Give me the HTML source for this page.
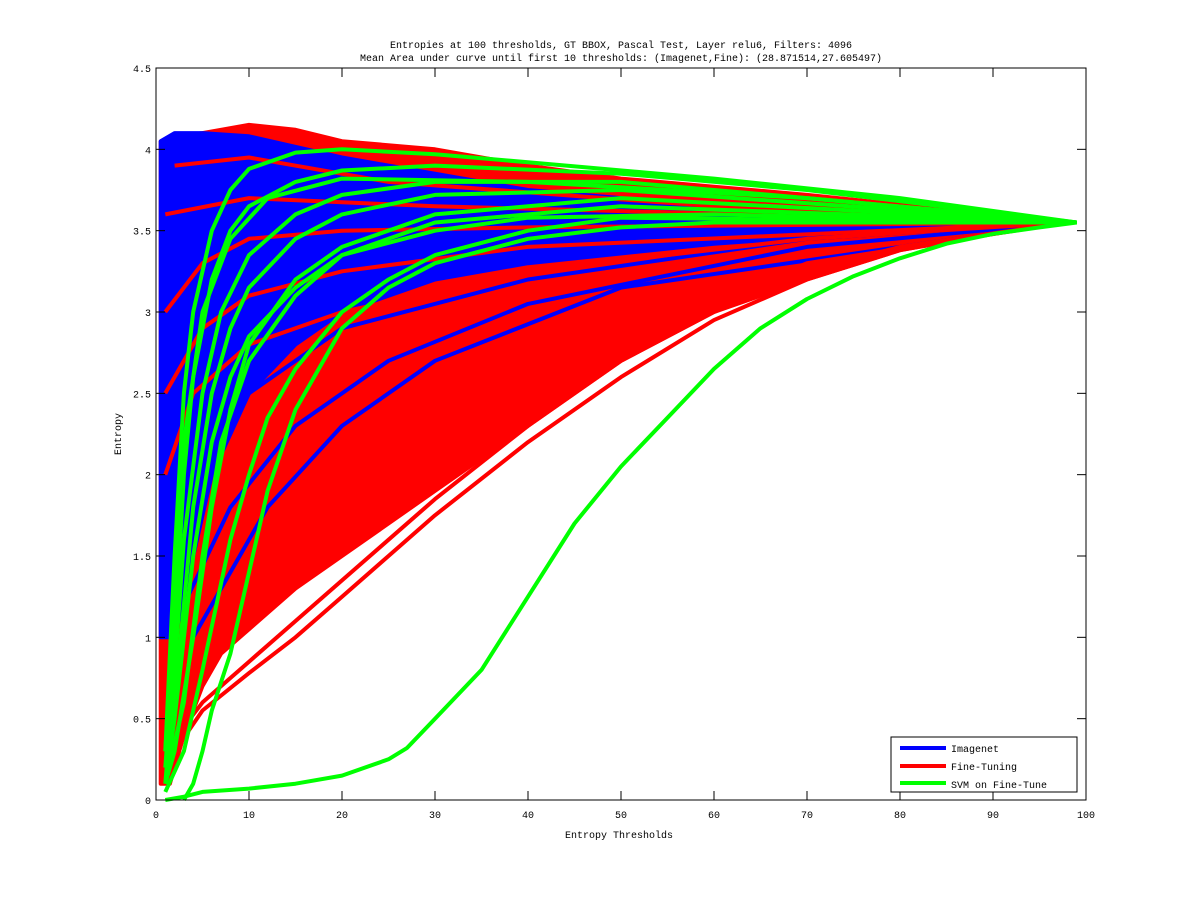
<!DOCTYPE html>
<html><head><meta charset="utf-8"><style>
body{margin:0;background:#fff;}
svg text{font-family:"Liberation Mono",monospace;font-size:10px;fill:#000;}
</style></head><body>
<svg id="chart" width="1200" height="900" xmlns="http://www.w3.org/2000/svg">
<rect width="1200" height="900" fill="#fff"/>
<g id="marks"></g>
<g id="axes"></g>
<text x="621" y="48" text-anchor="middle">Entropies at 100 thresholds, GT BBOX, Pascal Test, Layer relu6, Filters: 4096</text>
<text x="621" y="61" text-anchor="middle">Mean Area under curve until first 10 thresholds: (Imagenet,Fine): (28.871514,27.605497)</text>
<text x="619" y="838" text-anchor="middle">Entropy Thresholds</text>
<text transform="translate(121,434) rotate(-90)" text-anchor="middle">Entropy</text>
<g>
<rect x="891" y="737" width="186" height="55" fill="#fff" stroke="#000" stroke-width="1"/>
<line x1="900" y1="748" x2="946" y2="748" stroke="#0000ff" stroke-width="4"/>
<text x="951" y="752">Imagenet</text>
<line x1="900" y1="766" x2="946" y2="766" stroke="#ff0000" stroke-width="4"/>
<text x="951" y="770">Fine-Tuning</text>
<line x1="900" y1="783" x2="946" y2="783" stroke="#00ff00" stroke-width="4"/>
<text x="951" y="788">SVM on Fine-Tune</text>
</g>
</svg>
<script>
const xTicks=[0,10,20,30,40,50,60,70,80,90,100];
const yTicks=[0,0.5,1,1.5,2,2.5,3,3.5,4,4.5];
const yTickLabels=["0","0.5","1","1.5","2","2.5","3","3.5","4","4.5"];
// Fine-Tuning band envelope
const redUpper=[[0.5,4.05],[2,4.08],[5,4.1],[10,4.15],[15,4.12],[20,4.05],[30,4.0],[40,3.9],[50,3.82],[60,3.77],[70,3.72],[80,3.66],[90,3.6],[98,3.55]];
const redLower=[[98,3.55],[90,3.48],[80,3.38],[70,3.2],[60,3.0],[50,2.7],[40,2.3],[30,1.9],[20,1.5],[15,1.3],[10,1.05],[7,0.9],[5,0.7],[3,0.4],[1.5,0.1],[0.5,0.1]];
// Imagenet band envelope
const blueUpper=[[0.5,4.05],[2,4.1],[5,4.1],[10,4.08],[20,3.95],[30,3.85],[40,3.75],[60,3.65],[80,3.6],[98,3.55]];
const blueLower=[[98,3.55],[80,3.5],[60,3.42],[40,3.3],[30,3.2],[20,3.0],[15,2.8],[10,2.5],[6,2.0],[4,1.5],[2,1.0],[0.5,1.0]];
// individual Imagenet curves
const blueCurves=[
[[2,1.5],[5,2.0],[10,2.5],[20,2.9],[40,3.2],[70,3.45],[98,3.55]],
[[3,1.2],[8,1.8],[15,2.3],[25,2.7],[40,3.05],[70,3.4],[98,3.55]],
[[4,1.0],[7,1.3],[12,1.8],[20,2.3],[30,2.7],[50,3.15],[98,3.55]]
];
// individual Fine-Tuning curves
const redCurves=[
[[1,3.0],[5,3.3],[10,3.45],[20,3.5],[40,3.52],[98,3.55]],
[[1,2.5],[5,2.9],[10,3.1],[20,3.25],[40,3.4],[98,3.55]],
[[1,3.6],[10,3.7],[30,3.65],[98,3.55]],
[[2,3.9],[10,3.95],[25,3.8],[60,3.65],[98,3.55]],
[[1,2.0],[4,2.5],[10,2.8],[20,3.0],[40,3.25],[70,3.45],[98,3.55]],
[[2,0.3],[5,0.55],[10,0.78],[15,1.0],[20,1.25],[25,1.5],[30,1.75],[40,2.2],[50,2.6],[60,2.95],[70,3.2],[80,3.38],[90,3.48],[98,3.55]],
[[3,0.45],[5,0.6],[10,0.85],[20,1.35],[30,1.85],[40,2.3],[50,2.7],[60,3.0],[70,3.25],[80,3.4],[98,3.55]],
[[4,0.8],[10,1.2],[20,1.75],[30,2.2],[40,2.55],[55,2.95],[70,3.3],[98,3.55]]
];
// SVM on Fine-Tune curves
const greenCurves=[
[[1,0.0],[3,0.02],[5,0.05],[10,0.07],[15,0.1],[20,0.15],[25,0.25],[27,0.32],[30,0.5],[35,0.8],[40,1.25],[45,1.7],[50,2.05],[55,2.35],[60,2.65],[65,2.9],[70,3.08],[75,3.22],[80,3.33],[85,3.42],[90,3.48],[95,3.52],[99,3.55]],
[[3,0],[4,0.1],[5,0.3],[6,0.55],[8,0.9],[10,1.4],[12,1.9],[15,2.4],[20,2.9],[25,3.15],[30,3.3],[40,3.45],[50,3.52],[60,3.55],[99,3.55]],
[[1,0.1],[2,0.5],[4,1.5],[6,2.2],[8,2.6],[10,2.85],[15,3.15],[20,3.35],[30,3.5],[40,3.58],[60,3.6],[99,3.55]],
[[1,0.3],[2,1.5],[3,2.5],[4,3.0],[6,3.5],[8,3.75],[10,3.88],[15,3.98],[20,4.0],[30,3.97],[40,3.92],[60,3.82],[80,3.7],[99,3.55]],
[[1,0.2],[2,1.0],[3,2.0],[4,2.6],[6,3.2],[8,3.5],[10,3.65],[15,3.8],[20,3.87],[30,3.9],[50,3.85],[70,3.75],[99,3.55]],
[[1,0.1],[2,0.8],[3,1.6],[5,2.5],[7,3.0],[10,3.35],[15,3.6],[20,3.72],[30,3.8],[50,3.8],[70,3.7],[99,3.55]],
[[1,0.2],[2,0.6],[4,1.8],[6,2.5],[8,2.9],[10,3.15],[15,3.45],[20,3.6],[30,3.72],[50,3.75],[99,3.55]],
[[1,0.1],[3,0.6],[5,1.5],[7,2.2],[10,2.7],[15,3.1],[20,3.35],[30,3.55],[50,3.65],[99,3.55]],
[[1,0.1],[2,0.3],[4,1.0],[6,1.8],[8,2.4],[10,2.8],[15,3.2],[20,3.4],[30,3.6],[50,3.7],[99,3.55]],
[[1,0.05],[3,0.3],[5,0.8],[8,1.6],[10,2.0],[12,2.35],[15,2.65],[20,3.0],[25,3.2],[30,3.35],[40,3.5],[50,3.58],[99,3.55]],
[[1,0.3],[2,1.2],[3,2.2],[5,3.0],[8,3.45],[12,3.7],[20,3.82],[40,3.8],[70,3.7],[99,3.55]]
];
const X0=156,X1=1086,Y0=800,Y1=68;
const sx=v=>X0+(v-0)/(100-0)*(X1-X0);
const sy=v=>Y0-(v-0)/(4.5-0)*(Y0-Y1);
const NS="http://www.w3.org/2000/svg";
const marks=document.getElementById('marks');
const axes=document.getElementById('axes');
const pts=a=>a.map(p=>sx(p[0]).toFixed(1)+","+sy(p[1]).toFixed(1)).join(" ");
function band(up,lo,color,name){
  const el=document.createElementNS(NS,'polygon');
  el.setAttribute('points',pts(up.concat(lo)));
  el.setAttribute('fill',color);
  el.setAttribute('stroke',color);
  el.setAttribute('stroke-width','4');
  el.setAttribute('stroke-linejoin','round');
  
  
  marks.appendChild(el);
}
function curve(a,color,name){
  const el=document.createElementNS(NS,'polyline');
  el.setAttribute('points',pts(a));
  el.setAttribute('fill','none');
  el.setAttribute('stroke',color);
  el.setAttribute('stroke-width','4');
  el.setAttribute('stroke-linejoin','round');
  
  
  marks.appendChild(el);
}
band(redUpper,redLower,'#ff0000','fine-tuning-band');
band(blueUpper,blueLower,'#0000ff','imagenet-band');
blueCurves.forEach((c,i)=>curve(c,'#0000ff','imagenet-curve-'+i));
redCurves.forEach((c,i)=>curve(c,'#ff0000','fine-tuning-curve-'+i));
greenCurves.forEach((c,i)=>curve(c,'#00ff00','svm-curve-'+i));
const box=document.createElementNS(NS,'rect');
box.setAttribute('x',X0);box.setAttribute('y',Y1);
box.setAttribute('width',X1-X0);box.setAttribute('height',Y0-Y1);
box.setAttribute('fill','none');box.setAttribute('stroke','#000');


axes.appendChild(box);
function ln(x1,y1,x2,y2){const l=document.createElementNS(NS,'line');
 l.setAttribute('x1',x1);l.setAttribute('y1',y1);l.setAttribute('x2',x2);l.setAttribute('y2',y2);
 l.setAttribute('stroke','#000');
 
 
 axes.appendChild(l);}
function tx(x,y,s,anchor,name){const t=document.createElementNS(NS,'text');
 t.setAttribute('x',x);t.setAttribute('y',y);t.setAttribute('text-anchor',anchor);t.textContent=s;
 
 
 axes.appendChild(t);}
xTicks.forEach(v=>{const x=sx(v);ln(x,Y0,x,Y0-9);ln(x,Y1,x,Y1+9);tx(x,818,String(v),'middle','x-tick-label');});
yTicks.forEach((v,i)=>{const y=sy(v);ln(X0,y,X0+9,y);ln(X1,y,X1-9,y);tx(151,y+4,yTickLabels[i],'end','y-tick-label');});
</script>
</body></html>
